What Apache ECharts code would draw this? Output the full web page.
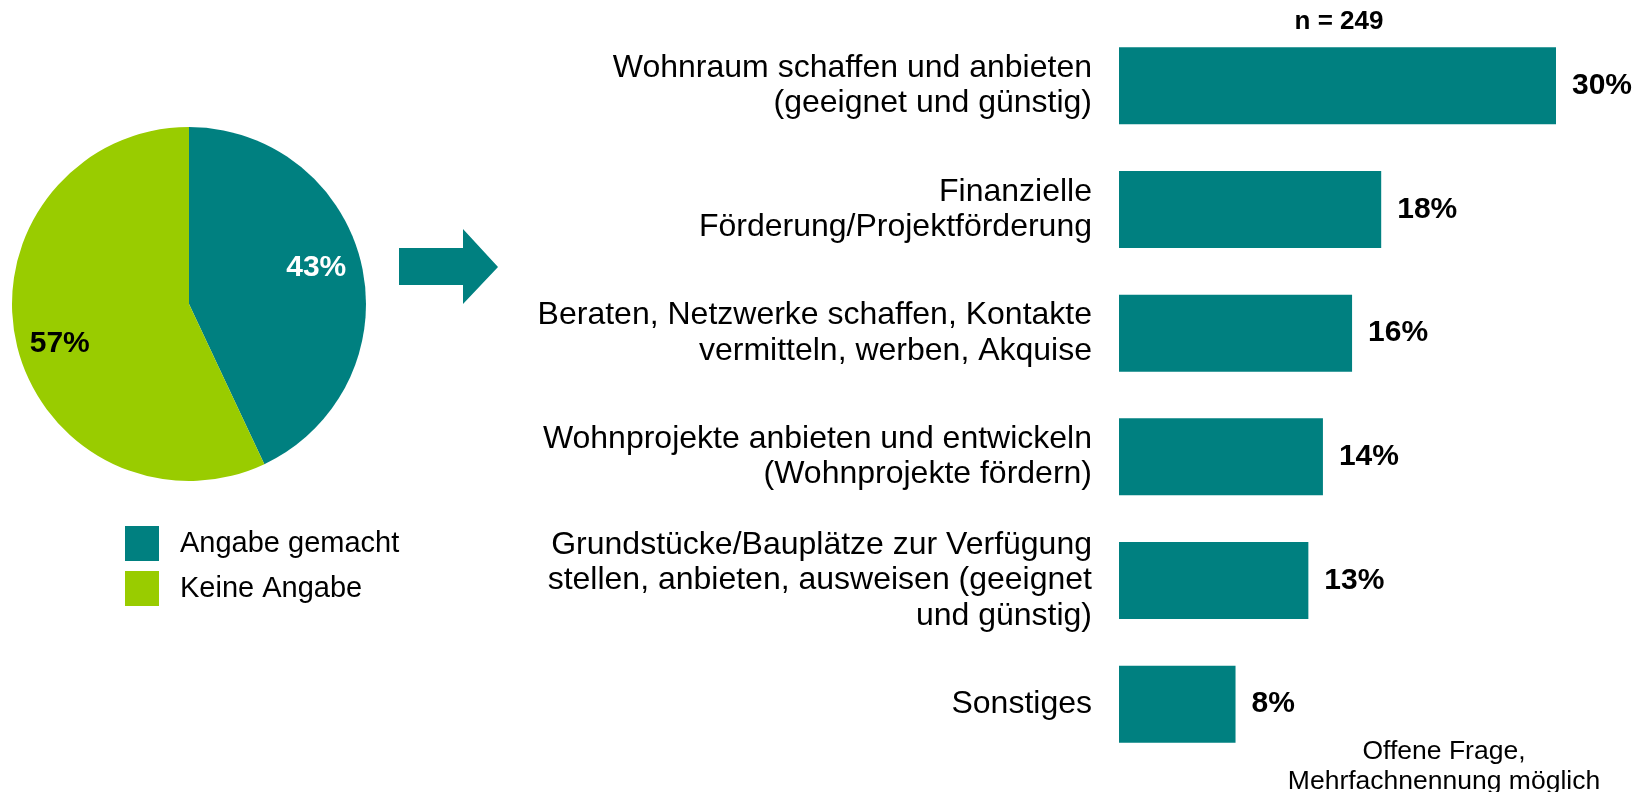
<!DOCTYPE html>
<html><head><meta charset="utf-8">
<script src="https://cdn.jsdelivr.net/npm/echarts@6/dist/echarts.min.js"></script>
<style>html,body{margin:0;padding:0;background:#fff}#c{width:1643px;height:792px}</style>
</head><body><div id="c"></div>
<script>
const categories = [
  'Wohnraum schaffen und anbieten\n(geeignet und günstig)',
  'Finanzielle\nFörderung/Projektförderung',
  'Beraten, Netzwerke schaffen, Kontakte\nvermitteln, werben, Akquise',
  'Wohnprojekte anbieten und entwickeln\n(Wohnprojekte fördern)',
  'Grundstücke/Bauplätze zur Verfügung\nstellen, anbieten, ausweisen (geeignet\nund günstig)',
  'Sonstiges'
];
const values = [30, 18, 16, 14, 13, 8];
const pieNames = ['Angabe gemacht', 'Keine Angabe'];
const pieValues = [43, 57];
const sampleLabel = 'n = 249';
const noteLabel = 'Offene Frage,\nMehrfachnennung möglich';

const TEAL = '#008080', GREEN = '#99cc00';
const FONT = "'Liberation Sans', Arial, sans-serif";
const pieLabelStyle = [
  { color: '#fff', offset: [-5, -7] },
  { color: '#000', offset: [3, 10] }
];

const chart = echarts.init(document.getElementById('c'));
chart.setOption({
  animation: false,
  backgroundColor: '#fff',
  textStyle: { fontFamily: FONT },
  legend: {
    orient: 'vertical', left: 125, top: 526, padding: 0,
    itemWidth: 34, itemHeight: 35, itemGap: 10,
    icon: 'rect',
    data: pieNames,
    textStyle: { fontSize: 29, color: '#000', fontFamily: FONT, padding: [0, 0, 0, 16] }
  },
  grid: { left: 1119, right: 87, top: 24, bottom: 26 },
  xAxis: { type: 'value', min: 0, max: 30, show: false },
  yAxis: {
    type: 'category', inverse: true, data: categories,
    axisLine: { show: false }, axisTick: { show: false }, splitLine: { show: false },
    axisLabel: { fontSize: 32, lineHeight: 35.5, color: '#000', margin: 27, align: 'right',
      padding: [6, 0, 0, 0], fontFamily: FONT }
  },
  series: [
    {
      type: 'pie', center: [189, 304], radius: 177, startAngle: 90, clockwise: true,
      color: [TEAL, GREEN], label: { show: false }, labelLine: { show: false },
      data: pieNames.map((n, i) => ({ name: n, value: pieValues[i] }))
    },
    {
      type: 'pie', center: [189, 304], radius: [88, 177], startAngle: 90, clockwise: true,
      silent: true, itemStyle: { color: 'rgba(0,0,0,0)' }, labelLine: { show: false },
      label: { show: true, position: 'inside', fontSize: 30, fontWeight: 'bold', fontFamily: FONT,
        formatter: p => p.value + '%' },
      data: pieNames.map((n, i) => ({ name: n, value: pieValues[i], label: pieLabelStyle[i] }))
    },
    {
      type: 'bar', data: values, barWidth: 77,
      itemStyle: { color: TEAL },
      label: { show: true, position: 'right', distance: 16, fontSize: 30, fontWeight: 'bold',
        color: '#000', fontFamily: FONT, formatter: p => p.value + '%' }
    }
  ],
  graphic: [
    { type: 'polygon', shape: { points: [[399, 248], [463, 248], [463, 229], [498, 267], [463, 304], [463, 285], [399, 285]] },
      style: { fill: TEAL } },
    { type: 'text', x: 1339, y: 22, style: { text: sampleLabel, font: "bold 26px " + FONT, fill: '#000', align: 'center', verticalAlign: 'middle' } },
    { type: 'text', x: 1444, y: 767, style: { text: noteLabel, font: "26.5px " + FONT, lineHeight: 30, fill: '#000', align: 'center', verticalAlign: 'middle' } }
  ]
});
</script>
</body></html>
